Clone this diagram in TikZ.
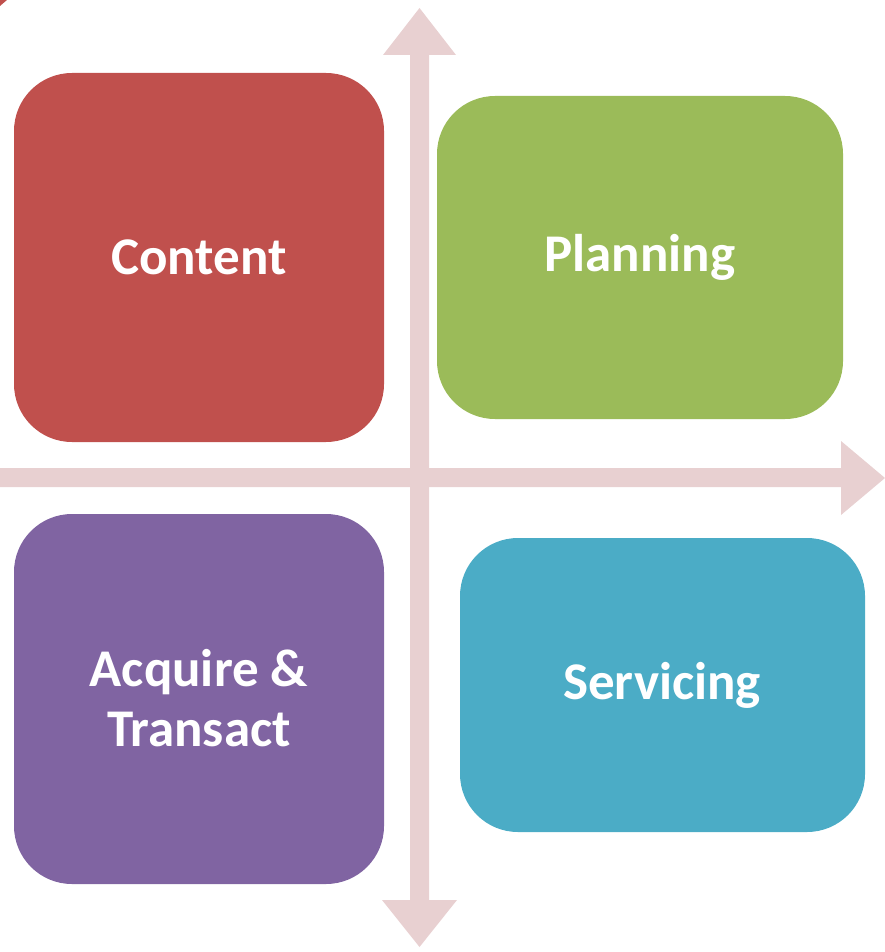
\documentclass[tikz,border=0pt]{standalone}
\usepackage{fontspec}
\setmainfont{Carlito}
\begin{document}
\begin{tikzpicture}[x=1pt,y=-1pt,
  quad/.style={rounded corners=58pt, draw=none, inner sep=0pt},
  quadtext/.style={text=white, font=\bfseries\fontsize{53}{60}\selectfont, align=center},
  axisfill/.style={fill=axispink, draw=none}]
\definecolor{axispink}{HTML}{E8D0D1}
\definecolor{qred}{HTML}{C0504D}
\definecolor{qgreen}{HTML}{9BBB59}
\definecolor{qpurple}{HTML}{8064A2}
\definecolor{qblue}{HTML}{4BACC6}
\useasboundingbox (0,0) rectangle (885,952);

% small red corner mark
\fill[qred] (0,0) -- (7,0) -- (0,6) -- cycle;

% quadrant boxes
\fill[qred,quad]    (14,73)   rectangle (384,442);
\fill[qgreen,quad]  (437,96)  rectangle (843,419);
\fill[qpurple,quad] (14,514)  rectangle (384,884);
\fill[qblue,quad]   (460,538) rectangle (865,832);

% axes: vertical double arrow and horizontal arrow
\fill[axisfill] (419.5,8) -- (456,55) -- (429,55) -- (429,900) -- (457,900)
  -- (419.5,947) -- (382,900) -- (410,900) -- (410,55) -- (383,55) -- cycle;
\fill[axisfill] (0,468) -- (841,468) -- (841,441) -- (885,478) -- (841,515)
  -- (841,487) -- (0,487) -- cycle;

% labels
\node[quadtext] (content)  at (199,257)   {Content};
\node[quadtext] (planning) at (640,257)   {Planning};
\node[quadtext] (acquire)  at (199,698)   {Acquire \&\\Transact};
\node[quadtext] (servicing) at (662,685)  {Servicing};
\end{tikzpicture}
\end{document}
